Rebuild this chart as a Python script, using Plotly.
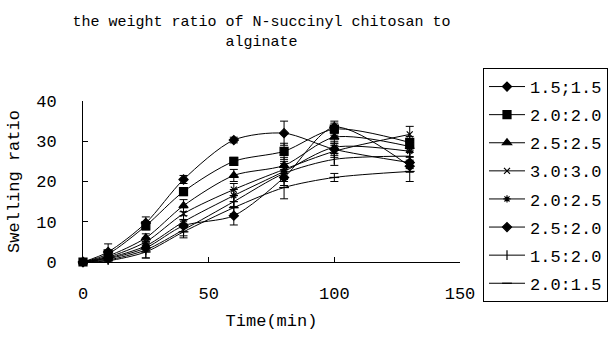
import plotly.graph_objects as go

time_min = [0, 10, 25, 40, 60, 80, 100, 130]
labels = ["1.5;1.5", "2.0:2.0", "2.5:2.5", "3.0:3.0", "2.0:2.5", "2.5:2.0", "1.5:2.0", "2.0:1.5"]

s_15_15 = [0, 0.8, 3.5, 9.0, 11.5, 21.0, 33.5, 23.8]
s_20_20 = [0, 2.0, 9.0, 17.5, 25.0, 27.5, 33.0, 29.7]
s_25_25 = [0, 1.5, 6.0, 14.0, 21.5, 24.0, 31.0, 28.7]
s_30_30 = [0, 1.2, 5.0, 12.0, 18.0, 23.0, 27.5, 31.7]
s_20_25 = [0, 1.0, 4.0, 10.0, 16.5, 22.5, 28.5, 27.5]
s_25_20 = [0, 2.5, 9.7, 20.5, 30.3, 32.0, 28.0, 24.7]
s_15_20 = [0, 0.5, 3.0, 8.0, 15.0, 22.0, 25.5, 26.3]
s_20_15 = [0, 0.3, 2.5, 7.5, 13.5, 18.5, 21.0, 22.5]

e_15_15 = [0, 0.5, 1.0, 1.5, 2.3, 2.0, 1.5, 1.5]
e_20_20 = [0, 0.5, 1.0, 1.0, 1.0, 2.0, 1.5, 1.5]
e_25_25 = [0, 0.5, 1.0, 1.5, 1.5, 2.0, 1.5, 1.5]
e_30_30 = [0, 0.5, 1.0, 1.5, 1.5, 2.0, 1.5, 2.0]
e_20_25 = [0, 0.5, 1.0, 1.5, 1.5, 2.0, 1.5, 1.5]
e_25_20 = [0, 2.0, 1.5, 1.0, 0.7, 3.0, 1.5, 1.5]
e_15_20 = [0, 0.5, 2.0, 1.5, 1.5, 2.0, 1.5, 1.5]
e_20_15 = [0, 0.5, 1.5, 1.5, 1.5, 2.8, 1.0, 2.5]

series = [s_15_15, s_20_20, s_25_25, s_30_30, s_20_25, s_25_20, s_15_20, s_20_15]
errors = [e_15_15, e_20_20, e_25_25, e_30_30, e_20_25, e_25_20, e_15_20, e_20_15]
symbols = ["diamond", "square", "triangle-up", "x-thin-open", "asterisk-open",
           "diamond", "line-ns-open", "line-ew-open"]
sizes = [7, 8, 8, 6, 6, 7, 7, 7]

FONT = "Liberation Mono"

fig = go.Figure()
for i, (name, ys, es, sym, sz) in enumerate(zip(labels, series, errors, symbols, sizes)):
    fig.add_trace(go.Scatter(
        x=time_min, y=ys, name=name, mode="lines+markers", legendgroup=f"g{i}",
        line=dict(color="black", width=1, shape="spline", smoothing=0.8),
        marker=dict(symbol=sym, size=sz, color="black",
                    line=dict(color="black", width=1.2)),
        error_y=dict(type="data", array=es, visible=True, color="black",
                     thickness=1, width=4),
        cliponaxis=False,
    ))

fig.update_layout(
    width=612, height=338,
    paper_bgcolor="white", plot_bgcolor="white",
    margin=dict(l=83, r=152, t=101, b=76, autoexpand=False),
    font=dict(family=FONT, size=17, color="black"),
    title=dict(text="the weight ratio of N-succinyl chitosan to<br>alginate",
               x=261.5 / 612, xanchor="center", xref="container",
               y=1 - 26 / 338, yanchor="top", yref="container",
               font=dict(family=FONT, size=15, color="black")),
    showlegend=True,
    legend=dict(x=(483 - 83) / 377, xanchor="left", xref="paper",
                y=(262 - 68) / 161, yanchor="top", yref="paper",
                bordercolor="black", borderwidth=1, bgcolor="white",
                font=dict(family=FONT, size=17, color="black"),
                itemwidth=36, tracegroupgap=3, maxheight=400),
    xaxis=dict(range=[0, 150], tickvals=[0, 50, 100, 150], ticks="inside",
               ticklen=5, tickcolor="black", showline=True, linecolor="black",
               linewidth=1, showgrid=False, zeroline=False, mirror=False,
               ticklabelstandoff=16,
               title=dict(text="Time(min)", standoff=10,
                          font=dict(family=FONT, size=17))),
    yaxis=dict(range=[0, 40], tickvals=[0, 10, 20, 30, 40], ticks="inside",
               ticklen=5, tickcolor="black", showline=True, linecolor="black",
               linewidth=1, showgrid=False, zeroline=False,
               ticklabelstandoff=22,
               title=dict(text="Swelling ratio", standoff=12,
                          font=dict(family=FONT, size=17))),
)

fig.write_html("out.html")
